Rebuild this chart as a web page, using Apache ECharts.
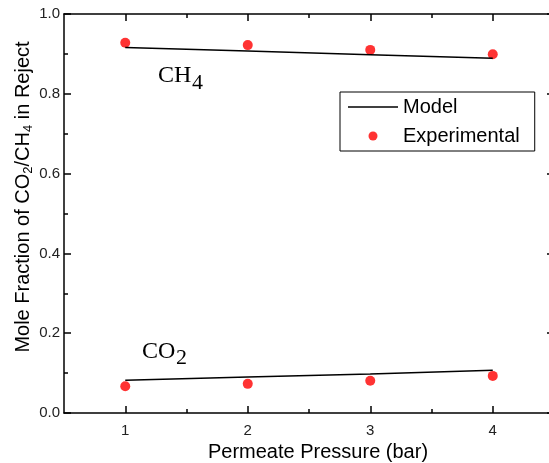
<!DOCTYPE html>
<html>
<head>
<meta charset="utf-8">
<script src="https://cdn.jsdelivr.net/npm/echarts@6/dist/echarts.min.js"></script>
<style>
html,body{margin:0;padding:0;background:#fff;}
#chart{width:549px;height:463px;}
</style>
</head>
<body>
<div id="chart"></div>
<script>
// ---- data ----
const pressure = [1, 2, 3, 4];
const ch4Model = [0.916, 0.907, 0.898, 0.889];
const co2Model = [0.082, 0.090, 0.098, 0.107];
const ch4Exp = [0.928, 0.922, 0.910, 0.899];
const co2Exp = [0.067, 0.073, 0.081, 0.093];
const xMajorTicks = [1, 2, 3, 4];
const xMinorTicks = [1.5, 2.5, 3.5];
const xLabel = 'Permeate Pressure (bar)';
const seriesNames = ['Model', 'Experimental'];

const pairs = (ys) => pressure.map((x, i) => [x, ys[i]]);

const SANS = 'Liberation Sans, Arial, sans-serif';
const SERIF = 'Liberation Serif, Times New Roman, serif';
const axisLineStyle = { color: '#000', width: 1.5 };

const chart = echarts.init(document.getElementById('chart'), null, { renderer: 'canvas' });

const xBase = { type: 'value', min: 0.5, max: 4.5, splitLine: { show: false } };
const yBase = { type: 'value', min: 0, max: 1, interval: 0.2, splitLine: { show: false } };

const option = {
  backgroundColor: '#fff',
  animation: false,
  grid: { left: 64, top: 14, width: 490, height: 399, containLabel: false, outerBoundsMode: 'none' },
  legend: {
    orient: 'vertical',
    left: 340, top: 92,
    data: [
      { name: seriesNames[0], icon: 'path://M0,0L48,0L48,1.5L0,1.5Z', itemStyle: { color: '#000' } },
      { name: seriesNames[1] }
    ],
    borderColor: '#000', borderWidth: 1,
    padding: [5, 15, 5, 8],
    itemGap: 9,
    itemWidth: 50, itemHeight: 9,
    textStyle: { fontFamily: SANS, fontSize: 20, color: '#000' }
  },
  xAxis: [
    Object.assign({}, xBase, {
      position: 'bottom',
      axisLine: { show: true, onZero: false, lineStyle: axisLineStyle },
      axisTick: { show: true, inside: true, length: 7, customValues: xMajorTicks, lineStyle: axisLineStyle },
      axisLabel: { show: true, customValues: xMajorTicks, margin: 10, fontFamily: SANS, fontSize: 15, color: '#222' },
      name: xLabel, nameLocation: 'middle', nameGap: 28,
      nameTextStyle: { fontFamily: SANS, fontSize: 20, color: '#000', padding: [0, 0, 0, 18] }
    }),
    Object.assign({}, xBase, {
      position: 'bottom',
      axisLine: { show: false, onZero: false },
      axisTick: { show: true, inside: true, length: 4, customValues: xMinorTicks, lineStyle: axisLineStyle },
      axisLabel: { show: false }
    }),
    Object.assign({}, xBase, {
      position: 'top',
      axisLine: { show: true, onZero: false, lineStyle: axisLineStyle },
      axisTick: { show: true, inside: true, length: 7, customValues: xMajorTicks, lineStyle: axisLineStyle },
      axisLabel: { show: false }
    }),
    Object.assign({}, xBase, {
      position: 'top',
      axisLine: { show: false, onZero: false },
      axisTick: { show: true, inside: true, length: 4, customValues: xMinorTicks, lineStyle: axisLineStyle },
      axisLabel: { show: false }
    })
  ],
  yAxis: [
    Object.assign({}, yBase, {
      position: 'left',
      axisLine: { show: true, onZero: false, lineStyle: axisLineStyle },
      axisTick: { show: true, inside: true, length: 7, lineStyle: axisLineStyle },
      minorTick: { show: true, splitNumber: 2, length: 4, lineStyle: { color: '#000', width: 1.5 } },
      axisLabel: { show: true, margin: 4, fontFamily: SANS, fontSize: 15, color: '#222', formatter: (v) => v.toFixed(1) }
    }),
    Object.assign({}, yBase, {
      position: 'right',
      axisLine: { show: true, onZero: false, lineStyle: axisLineStyle },
      axisTick: { show: true, inside: true, length: 7, lineStyle: axisLineStyle },
      minorTick: { show: true, splitNumber: 2, length: 4, lineStyle: { color: '#000', width: 1.5 } },
      axisLabel: { show: false }
    })
  ],
  series: [
    { name: 'Model', type: 'line', data: pairs(ch4Model), symbol: 'none', showSymbol: false,
      lineStyle: { color: '#000', width: 1.5 }, itemStyle: { color: '#000' } },
    { name: 'Model', type: 'line', data: pairs(co2Model), symbol: 'none', showSymbol: false,
      lineStyle: { color: '#000', width: 1.5 }, itemStyle: { color: '#000' } },
    { name: 'Experimental', type: 'scatter', data: pairs(ch4Exp), symbol: 'circle', symbolSize: 10,
      itemStyle: { color: '#ff0000' } },
    { name: 'Experimental', type: 'scatter', data: pairs(co2Exp), symbol: 'circle', symbolSize: 10,
      itemStyle: { color: '#ff0000' } }
  ],
  graphic: [
    // CH4 annotation
    { type: 'text', left: 158, top: 64, style: { text: 'CH', fontFamily: SERIF, fontSize: 24, fill: '#000' } },
    { type: 'text', left: 192, top: 72, style: { text: '4', fontFamily: SERIF, fontSize: 22, fill: '#000' } },
    // CO2 annotation
    { type: 'text', left: 142, top: 340, style: { text: 'CO', fontFamily: SERIF, fontSize: 24, fill: '#000' } },
    { type: 'text', left: 176, top: 347, style: { text: '2', fontFamily: SERIF, fontSize: 22, fill: '#000' } },
    // Y axis title
    {
      type: 'text', x: 23, y: 197, rotation: Math.PI / 2,
      style: {
        text: '{n|Mole Fraction of CO}{s|2}{n|/CH}{s|4}{n| in Reject}',
        align: 'center', verticalAlign: 'middle', fill: '#000',
        rich: {
          n: { fontFamily: SANS, fontSize: 20, lineHeight: 24, verticalAlign: 'middle', fill: '#000' },
          s: { fontFamily: SANS, fontSize: 13, lineHeight: 24, verticalAlign: 'bottom', padding: [8, 0, 0, 0], fill: '#000' }
        }
      }
    }
  ]
};
chart.setOption(option);
</script>
</body>
</html>
